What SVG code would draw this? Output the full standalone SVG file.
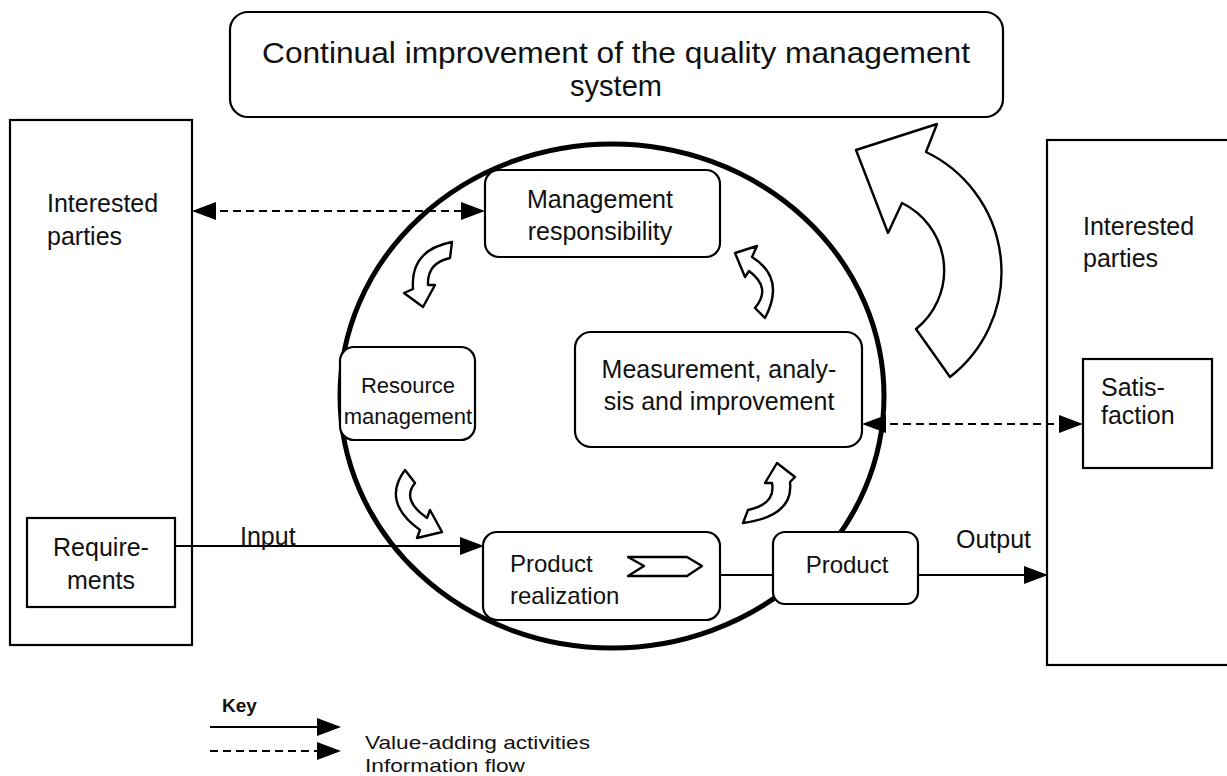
<svg xmlns="http://www.w3.org/2000/svg" width="1227" height="776" viewBox="0 0 1227 776">
<defs>
<marker id="ah" markerUnits="userSpaceOnUse" markerWidth="24" markerHeight="18" refX="22" refY="9" orient="auto-start-reverse" viewBox="0 0 24 18">
<path d="M0,0 L24,9 L0,18 Z" fill="#000"/>
</marker>
<style>
text{font-family:"Liberation Sans",Arial,sans-serif;fill:#111;}
.t{font-size:24px;}
.tl{font-size:25px;}
.box{fill:#fff;stroke:#000;stroke-width:2.2;}
.ln{fill:none;stroke:#000;stroke-width:2;}
.dash{fill:none;stroke:#000;stroke-width:2;stroke-dasharray:8 5;}
.carrow{fill:#fff;stroke:#000;stroke-width:2.4;stroke-linejoin:round;}
.key{font-size:19px;}
</style>
</defs>
<rect width="1227" height="776" fill="#fff"/>

<g id="title">
<rect class="box" x="230" y="12" width="773" height="105" rx="18"/>
<text x="262" y="63" textLength="708" lengthAdjust="spacingAndGlyphs" style="font-size:29px">Continual improvement of the quality management</text>
<text x="616" y="96" text-anchor="middle" style="font-size:29px">system</text>
</g>

<g id="left-parties">
<rect class="box" x="10" y="120" width="182" height="525"/>
<text class="tl" x="47" y="212">Interested</text>
<text class="tl" x="47" y="245">parties</text>
</g>

<g id="requirements">
<rect class="box" x="27" y="518" width="148" height="89"/>
<text class="tl" x="101" y="556" text-anchor="middle">Require-</text>
<text class="tl" x="101" y="589" text-anchor="middle">ments</text>
</g>

<g id="right-parties">
<rect class="box" x="1047" y="140" width="190" height="525"/>
<text class="tl" x="1083" y="235">Interested</text>
<text class="tl" x="1083" y="267">parties</text>
</g>

<g id="satisfaction">
<rect class="box" x="1083" y="359" width="129" height="109"/>
<text class="tl" x="1101" y="396">Satis-</text>
<text class="tl" x="1101" y="424">faction</text>
</g>

<g id="process-circle">
<ellipse cx="612" cy="396" rx="272" ry="252" fill="none" stroke="#000" stroke-width="5"/>
</g>

<g id="management">
<rect class="box" x="485" y="170" width="235" height="87" rx="14"/>
<text class="tl" x="600" y="208" text-anchor="middle">Management</text>
<text class="tl" x="600" y="240" text-anchor="middle">responsibility</text>
</g>

<g id="resource">
<rect class="box" x="340" y="347" width="135" height="93" rx="14"/>
<text x="408" y="393" text-anchor="middle" style="font-size:22px">Resource</text>
<text x="408" y="424" text-anchor="middle" style="font-size:22px">management</text>
</g>

<g id="measurement">
<rect class="box" x="575" y="332" width="287" height="115" rx="16"/>
<text class="tl" x="719" y="378" text-anchor="middle">Measurement, analy-</text>
<text class="tl" x="719" y="410" text-anchor="middle">sis and improvement</text>
</g>

<g id="realization">
<rect class="box" x="483" y="532" width="237" height="88" rx="14"/>
<text class="t" x="510" y="572">Product</text>
<text class="t" x="510" y="604">realization</text>
<path class="carrow" d="M628,557 L687,557 L702,566 L687,576 L628,576 L644,566 Z"/>
</g>

<g id="product">
<rect class="box" x="773" y="532" width="145" height="72" rx="12"/>
<text class="t" x="847" y="573" text-anchor="middle">Product</text>
</g>

<g id="cycle-arrows">
<path class="carrow" d="M452,242 Q410,250 413,289 L404,293 L423,307 L435,285 L428,285 Q427,263 450,258 Z"/>
<path class="carrow" d="M735,253 L757,246 L752,257 Q786,278 765,318 L755,308 Q772,288 749,271 L745,277 Z"/>
<path class="carrow" d="M405,470 Q381,502 420,530 L417,538 L442,532 L430,510 L427,518 Q401,500 415,483 Z"/>
<path class="carrow" d="M777,463 L795,477 L790,482 Q794,516 743,523 L748,510 Q776,504 772,483 L765,483 Z"/>
<path class="carrow" stroke-width="2.6" d="M937,124 L856,150 L888,233 L902,203 A75,75 0 0 1 916,329 L950,377 A133,133 0 0 0 926,152 Z"/>
</g>

<g id="connectors">
<line class="dash" x1="194" y1="211" x2="483" y2="211" marker-start="url(#ah)" marker-end="url(#ah)"/>
<line class="dash" x1="864" y1="424" x2="1081" y2="424" marker-start="url(#ah)" marker-end="url(#ah)"/>
<line class="ln" x1="175" y1="546" x2="482" y2="546" marker-end="url(#ah)"/>
<line class="ln" x1="720" y1="575" x2="773" y2="575"/>
<line class="ln" x1="918" y1="575" x2="1046" y2="575" marker-end="url(#ah)"/>
<text class="tl" x="240" y="545">Input</text>
<text class="tl" x="956" y="548">Output</text>
</g>

<g id="key">
<text x="222" y="712" style="font-size:19px;font-weight:bold">Key</text>
<line class="ln" x1="210" y1="727" x2="339" y2="727" marker-end="url(#ah)"/>
<line class="dash" x1="210" y1="751" x2="339" y2="751" marker-end="url(#ah)"/>
<text class="key" x="365" y="749" textLength="225" lengthAdjust="spacingAndGlyphs">Value-adding activities</text>
<text class="key" x="365" y="772" textLength="160" lengthAdjust="spacingAndGlyphs">Information flow</text>
</g>
</svg>
